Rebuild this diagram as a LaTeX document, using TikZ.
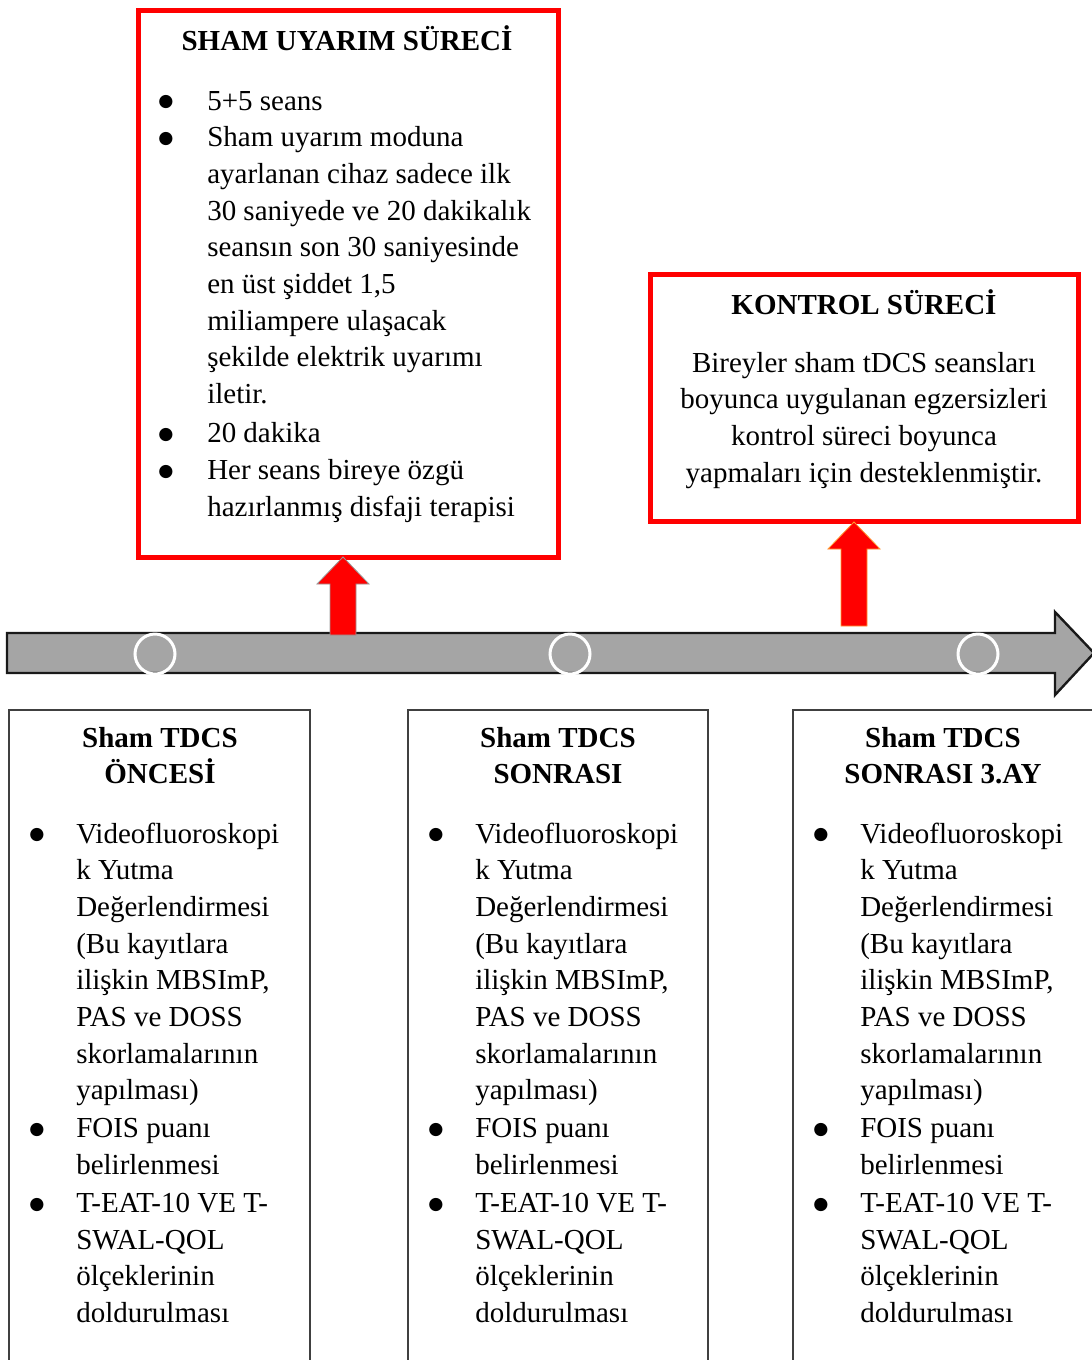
\documentclass[tikz,border=0pt]{standalone}
\usepackage{fontspec}
\setmainfont{Liberation Serif}
\newfontfamily\bulfont{DejaVu Sans}
\usetikzlibrary{fit}
\definecolor{shamred}{HTML}{FF0000}
\definecolor{bargray}{HTML}{A5A5A5}
\newcommand{\bul}{\raisebox{2.4pt}{\bulfont\fontsize{13}{13}\selectfont ●}}
\newcommand{\uparr}[4]{% x, bottom, tip, outline
  \filldraw[fill=shamred,draw=#4,line width=.6pt] (#1-13,#2) -- (#1+13,#2) -- (#1+13,#3+27)
    -- (#1+26,#3+27) -- (#1,#3) -- (#1-26,#3+27) -- (#1-13,#3+27) -- cycle;}
\newcommand{\stagelist}{\begin{tabular}[t]{@{}p{35.25pt}@{}l@{}}
\bul & Videofluoroskopi\\
 & k Yutma\\
 & Değerlendirmesi\\
 & (Bu kayıtlara\\
 & ilişkin MBSImP,\\
 & PAS ve DOSS\\
 & skorlamalarının\\
 & yapılması)\\[1pt]
\bul & FOIS puanı\\
 & belirlenmesi\\[1pt]
\bul & T-EAT-10 VE T-\\
 & SWAL-QOL\\
 & ölçeklerinin\\
 & doldurulması
\end{tabular}}

\begin{document}
\begin{tikzpicture}[x=.75pt,y=-.75pt,
  redbox/.style={draw=shamred,line width=3.75pt,inner sep=0pt},
  stagebox/.style={draw=black!75,line width=1.5pt,inner sep=0pt},
  body/.style={font=\fontsize{21.75}{27.5}\selectfont,inner sep=0pt},
  dot/.style={circle,draw=white,line width=2.25pt,minimum size=30pt,inner sep=0pt},
  timeline/.style={fill=bargray,draw=black!90,line width=1.8pt,line join=miter}]
\clip (0,0) rectangle (1092,1360);
%boxes above the time line
\node[redbox,fit={(138,10) (558,557)}] (sham) {};
\node[redbox,fit={(650,274) (1078,521)}] (kontrol) {};
\node[body,anchor=base] (shamtitle) at (347,50) {\bfseries SHAM UYARIM SÜRECİ};
\node[body,anchor=base west] (shamtext) at (158,110) {\begin{tabular}[t]{@{}p{36.75pt}@{}l@{}}
\bul & 5+5 seans\\
\bul & Sham uyarım moduna\\
 & ayarlanan cihaz sadece ilk\\
 & 30 saniyede ve 20 dakikalık\\
 & seansın son 30 saniyesinde\\
 & en üst şiddet 1,5\\
 & miliampere ulaşacak\\
 & şekilde elektrik uyarımı\\
 & iletir.\\[2pt]
\bul & 20 dakika\\
\bul & Her seans bireye özgü\\
 & hazırlanmış disfaji terapisi
\end{tabular}};
\node[body,anchor=base] (kontroltitle) at (864,314) {\bfseries KONTROL SÜRECİ};
\node[body,anchor=base] (kontroltext) at (864,372) {\begin{tabular}[t]{@{}c@{}}
Bireyler sham tDCS seansları\\
boyunca uygulanan egzersizleri\\
kontrol süreci boyunca\\
yapmaları için desteklenmiştir.
\end{tabular}};
%time line
\draw[timeline] (7,633) -- (1055,633) -- (1055,612) -- (1094,653) -- (1055,695)
  -- (1055,673) -- (7,673) -- cycle;
\node[dot] (c1) at (155,654) {};
\node[dot] (c2) at (570,654) {};
\node[dot] (c3) at (978,654) {};
\uparr{343}{635}{557}{black!40}
\uparr{854}{626}{522}{orange!80}
%stages below the time line
\node[stagebox,fit={(9,710) (310,1380)}] (before) {};
\node[stagebox,fit={(408,710) (708,1380)}] (after) {};
\node[stagebox,fit={(793,710) (1096,1380)}] (later) {};
\node[body,anchor=base] (beforetitle) at (160,747) {\bfseries\begin{tabular}[t]{@{}c@{}}Sham TDCS\\ÖNCESİ\end{tabular}};
\node[body,anchor=base] (aftertitle) at (558,747) {\bfseries\begin{tabular}[t]{@{}c@{}}Sham TDCS\\SONRASI\end{tabular}};
\node[body,anchor=base] (latertitle) at (943,747) {\bfseries\begin{tabular}[t]{@{}c@{}}Sham TDCS\\SONRASI 3.AY\end{tabular}};
\node[body,anchor=base west] (beforetext) at (29,843) {\stagelist};
\node[body,anchor=base west] (aftertext) at (428,843) {\stagelist};
\node[body,anchor=base west] (latertext) at (813,843) {\stagelist};
\end{tikzpicture}
\end{document}
